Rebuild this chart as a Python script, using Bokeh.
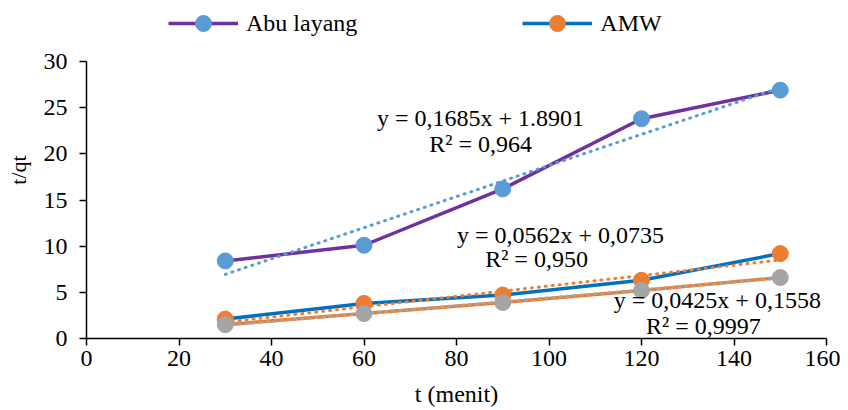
from bokeh.plotting import figure
from bokeh.models import Legend, LegendItem, Range1d, Label, FixedTicker
from bokeh.embed import file_html
from bokeh.resources import INLINE

# data
t = [30, 60, 90, 120, 150]
abu_layang = [8.4, 10.1, 16.2, 23.8, 26.9]
amw = [2.1, 3.8, 4.7, 6.3, 9.2]
seri3 = [1.5, 2.7, 3.9, 5.2, 6.6]

# trendline equations (as printed on chart)
abu_slope, abu_icpt = 0.1685, 1.8901
amw_slope, amw_icpt = 0.0562, 0.0735
s3_slope, s3_icpt = 0.0425, 0.1558
trend_x = [30, 150]

x_ticks = [0, 20, 40, 60, 80, 100, 120, 140, 160]
y_ticks = [0, 5, 10, 15, 20, 25, 30]

FONT = "Liberation Serif"

p = figure(width=840, height=410, output_backend="svg", toolbar_location=None,
           x_range=Range1d(0, 160), y_range=Range1d(0, 36.5),
           min_border_left=86, min_border_right=14, min_border_top=1, min_border_bottom=72)
p.outline_line_color = None
p.xgrid.grid_line_color = None
p.ygrid.grid_line_color = None
p.background_fill_color = "white"

for ax in (p.xaxis[0], p.yaxis[0]):
    ax.axis_line_color = "black"
    ax.axis_line_width = 1.5
    ax.major_tick_line_color = "black"
    ax.major_tick_line_width = 1.5
    ax.major_tick_in = 0
    ax.major_tick_out = 7
    ax.minor_tick_line_color = None
    ax.major_label_text_font = FONT
    ax.major_label_text_font_size = "24px"
    ax.major_label_text_color = "black"
    ax.axis_label_text_font = FONT
    ax.axis_label_text_font_style = "normal"
    ax.axis_label_text_color = "black"

p.yaxis.bounds = (0, 30)
p.xaxis.ticker = FixedTicker(ticks=x_ticks)
p.yaxis.ticker = FixedTicker(ticks=y_ticks)
p.xaxis.axis_label = "t (menit)"
p.yaxis.axis_label = "t/qt"
p.xaxis.axis_label_text_font_size = "24px"
p.yaxis.axis_label_text_font_size = "22px"
p.xaxis.major_label_standoff = 5
p.yaxis.major_label_standoff = 12
p.xaxis.axis_label_standoff = 12
p.yaxis.axis_label_standoff = 10

PURPLE = "#7030A0"
LBLUE = "#5B9BD5"
BLUE = "#0070C0"
ORANGE = "#ED7D31"
GREY = "#A5A5A5"

# series lines
l1 = p.line(t, abu_layang, line_color=PURPLE, line_width=3.5)
l2 = p.line(t, amw, line_color=BLUE, line_width=3.5)
l3 = p.line(t, seri3, line_color=ORANGE, line_width=3.5)

# trendlines
def tl(slope, icpt):
    return [slope * x + icpt for x in trend_x]

p.line(trend_x, tl(abu_slope, abu_icpt), line_color=LBLUE, line_width=3, line_dash="1 6", line_cap="round")
p.line(trend_x, tl(amw_slope, amw_icpt), line_color=ORANGE, line_width=3, line_dash="1 6", line_cap="round")
p.line(trend_x, tl(s3_slope, s3_icpt), line_color=GREY, line_width=3, line_dash="1 6", line_cap="round")

# markers
m1 = p.scatter(t, abu_layang, size=16, fill_color=LBLUE, line_color=LBLUE)
m2 = p.scatter(t, amw, size=16, fill_color=ORANGE, line_color=ORANGE)
m3 = p.scatter(t, seri3, size=16, fill_color=GREY, line_color=GREY)

# equation labels
labels = [
    (85.2, 23.9, "y = 0,1685x + 1.8901"),
    (85.2, 21.1, "R\u00b2 = 0,964"),
    (102.5, 11.2, "y = 0,0562x + 0,0735"),
    (97.3, 8.6, "R\u00b2 = 0,950"),
    (136.4, 4.2, "y = 0,0425x + 0,1558"),
    (133.4, 1.3, "R\u00b2 = 0,9997"),
]
for x, y, s in labels:
    p.add_layout(Label(x=x, y=y, text=s, text_font=FONT, text_font_size="24px",
                       text_color="black", text_align="center", text_baseline="middle"))

legend = Legend(items=[LegendItem(label="Abu layang", renderers=[l1, m1]),
                       LegendItem(label="AMW", renderers=[l2, m2])],
                orientation="horizontal", location=(82, 295),
                glyph_width=70, glyph_height=40, label_height=40,
                label_text_font=FONT,
                label_text_font_size="24px", label_text_color="black",
                spacing=165, padding=0, margin=0, label_standoff=8,
                border_line_color=None, background_fill_alpha=0)
p.add_layout(legend, "center")

open("out.html", "w").write(file_html(p, INLINE))
